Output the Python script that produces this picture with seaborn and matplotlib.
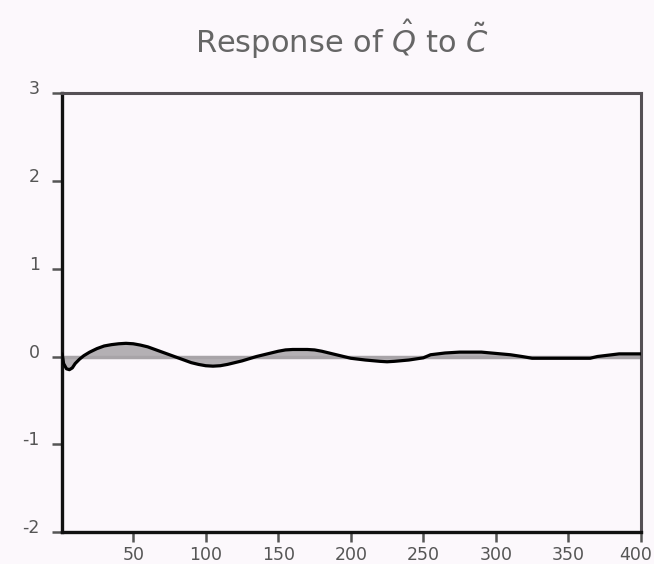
import matplotlib
matplotlib.use("Agg")
import matplotlib.pyplot as plt
import matplotlib.transforms as mtransforms
import seaborn as sns
import pandas as pd

# Impulse response of Q-hat to a shock in C-tilde
horizon = [1, 2, 4, 6, 8, 10, 13, 16, 20, 25, 30, 35, 40, 45, 50, 55, 60, 65, 70, 75,
           80, 85, 90, 95, 100, 105, 110, 115, 120, 125, 130, 135, 140, 145, 150, 155,
           160, 165, 170, 175, 180, 185, 190, 195, 200, 210, 220, 225, 230, 240, 250,
           255, 265, 275, 290, 300, 310, 318, 325, 340, 355, 365, 370, 380, 385, 400]
response = [0.03, -0.08, -0.14, -0.15, -0.13, -0.08, -0.03, 0.01, 0.05, 0.09, 0.12, 0.135,
            0.145, 0.15, 0.145, 0.13, 0.11, 0.08, 0.05, 0.02, -0.01, -0.04, -0.07, -0.09,
            -0.105, -0.11, -0.105, -0.09, -0.07, -0.05, -0.025, 0.0, 0.02, 0.04, 0.06, 0.075,
            0.08, 0.08, 0.08, 0.075, 0.06, 0.04, 0.02, 0.0, -0.02, -0.04, -0.055, -0.06,
            -0.055, -0.04, -0.015, 0.02, 0.04, 0.05, 0.05, 0.035, 0.02, 0.0, -0.02, -0.02,
            -0.02, -0.02, 0.0, 0.02, 0.03, 0.03]

x_ticks = [50, 100, 150, 200, 250, 300, 350, 400]
y_ticks = [-2, -1, 0, 1, 2, 3]

df = pd.DataFrame({"horizon": horizon, "response": response})

sns.set_style("white")
plt.rcParams["font.family"] = ["DejaVu Sans"]
plt.rcParams["axes.unicode_minus"] = False

bg = "#fcf8fc"
fig = plt.figure(figsize=(6.54, 5.64), dpi=100, facecolor=bg)
ax = fig.add_axes([0.095, 0.0565, 0.885, 0.7785])
ax.set_facecolor(bg)

# shaded area between the zero line and the response
ax.fill_between(df["horizon"], 0, df["response"], color="#b4b0b4", linewidth=0, zorder=1)
ax.axhline(0, color="#a8a4a8", linewidth=2.5, zorder=1.5)
sns.lineplot(data=df, x="horizon", y="response", color="black", linewidth=2.3, ax=ax, zorder=3)

ax.set_xlim(1, 400)
ax.set_ylim(-2, 3)
ax.set_xticks(x_ticks)
ax.set_yticks(y_ticks)
ax.set_xlabel("")
ax.set_ylabel("")

ax.tick_params(axis="both", direction="out", length=7, width=1.8, color="#555555",
               labelsize=12.5, labelcolor="#555555")
ax.tick_params(axis="x", pad=3, bottom=True)
ax.tick_params(axis="y", pad=9, left=True)

# y labels sit slightly above their ticks
lift = mtransforms.ScaledTranslation(0, 6 / 100, fig.dpi_scale_trans)
for lbl in ax.get_yticklabels():
    lbl.set_transform(lbl.get_transform() + lift)
# keep the last x label inside the figure
nudge = mtransforms.ScaledTranslation(-5 / 100, 0, fig.dpi_scale_trans)
last = ax.get_xticklabels()[-1]
last.set_transform(last.get_transform() + nudge)

for side in ["left", "bottom"]:
    ax.spines[side].set_color("#111111")
    ax.spines[side].set_linewidth(2.4)
for side in ["top", "right"]:
    ax.spines[side].set_visible(True)
    ax.spines[side].set_color("#555055")
    ax.spines[side].set_linewidth(2.2)

fig.text(0.523, 0.931, r"Response of $\hat{Q}$ to $\tilde{C}$", ha="center", va="center",
         fontsize=22, color="#666666")

fig.savefig("out.png", dpi=100, facecolor=bg)
